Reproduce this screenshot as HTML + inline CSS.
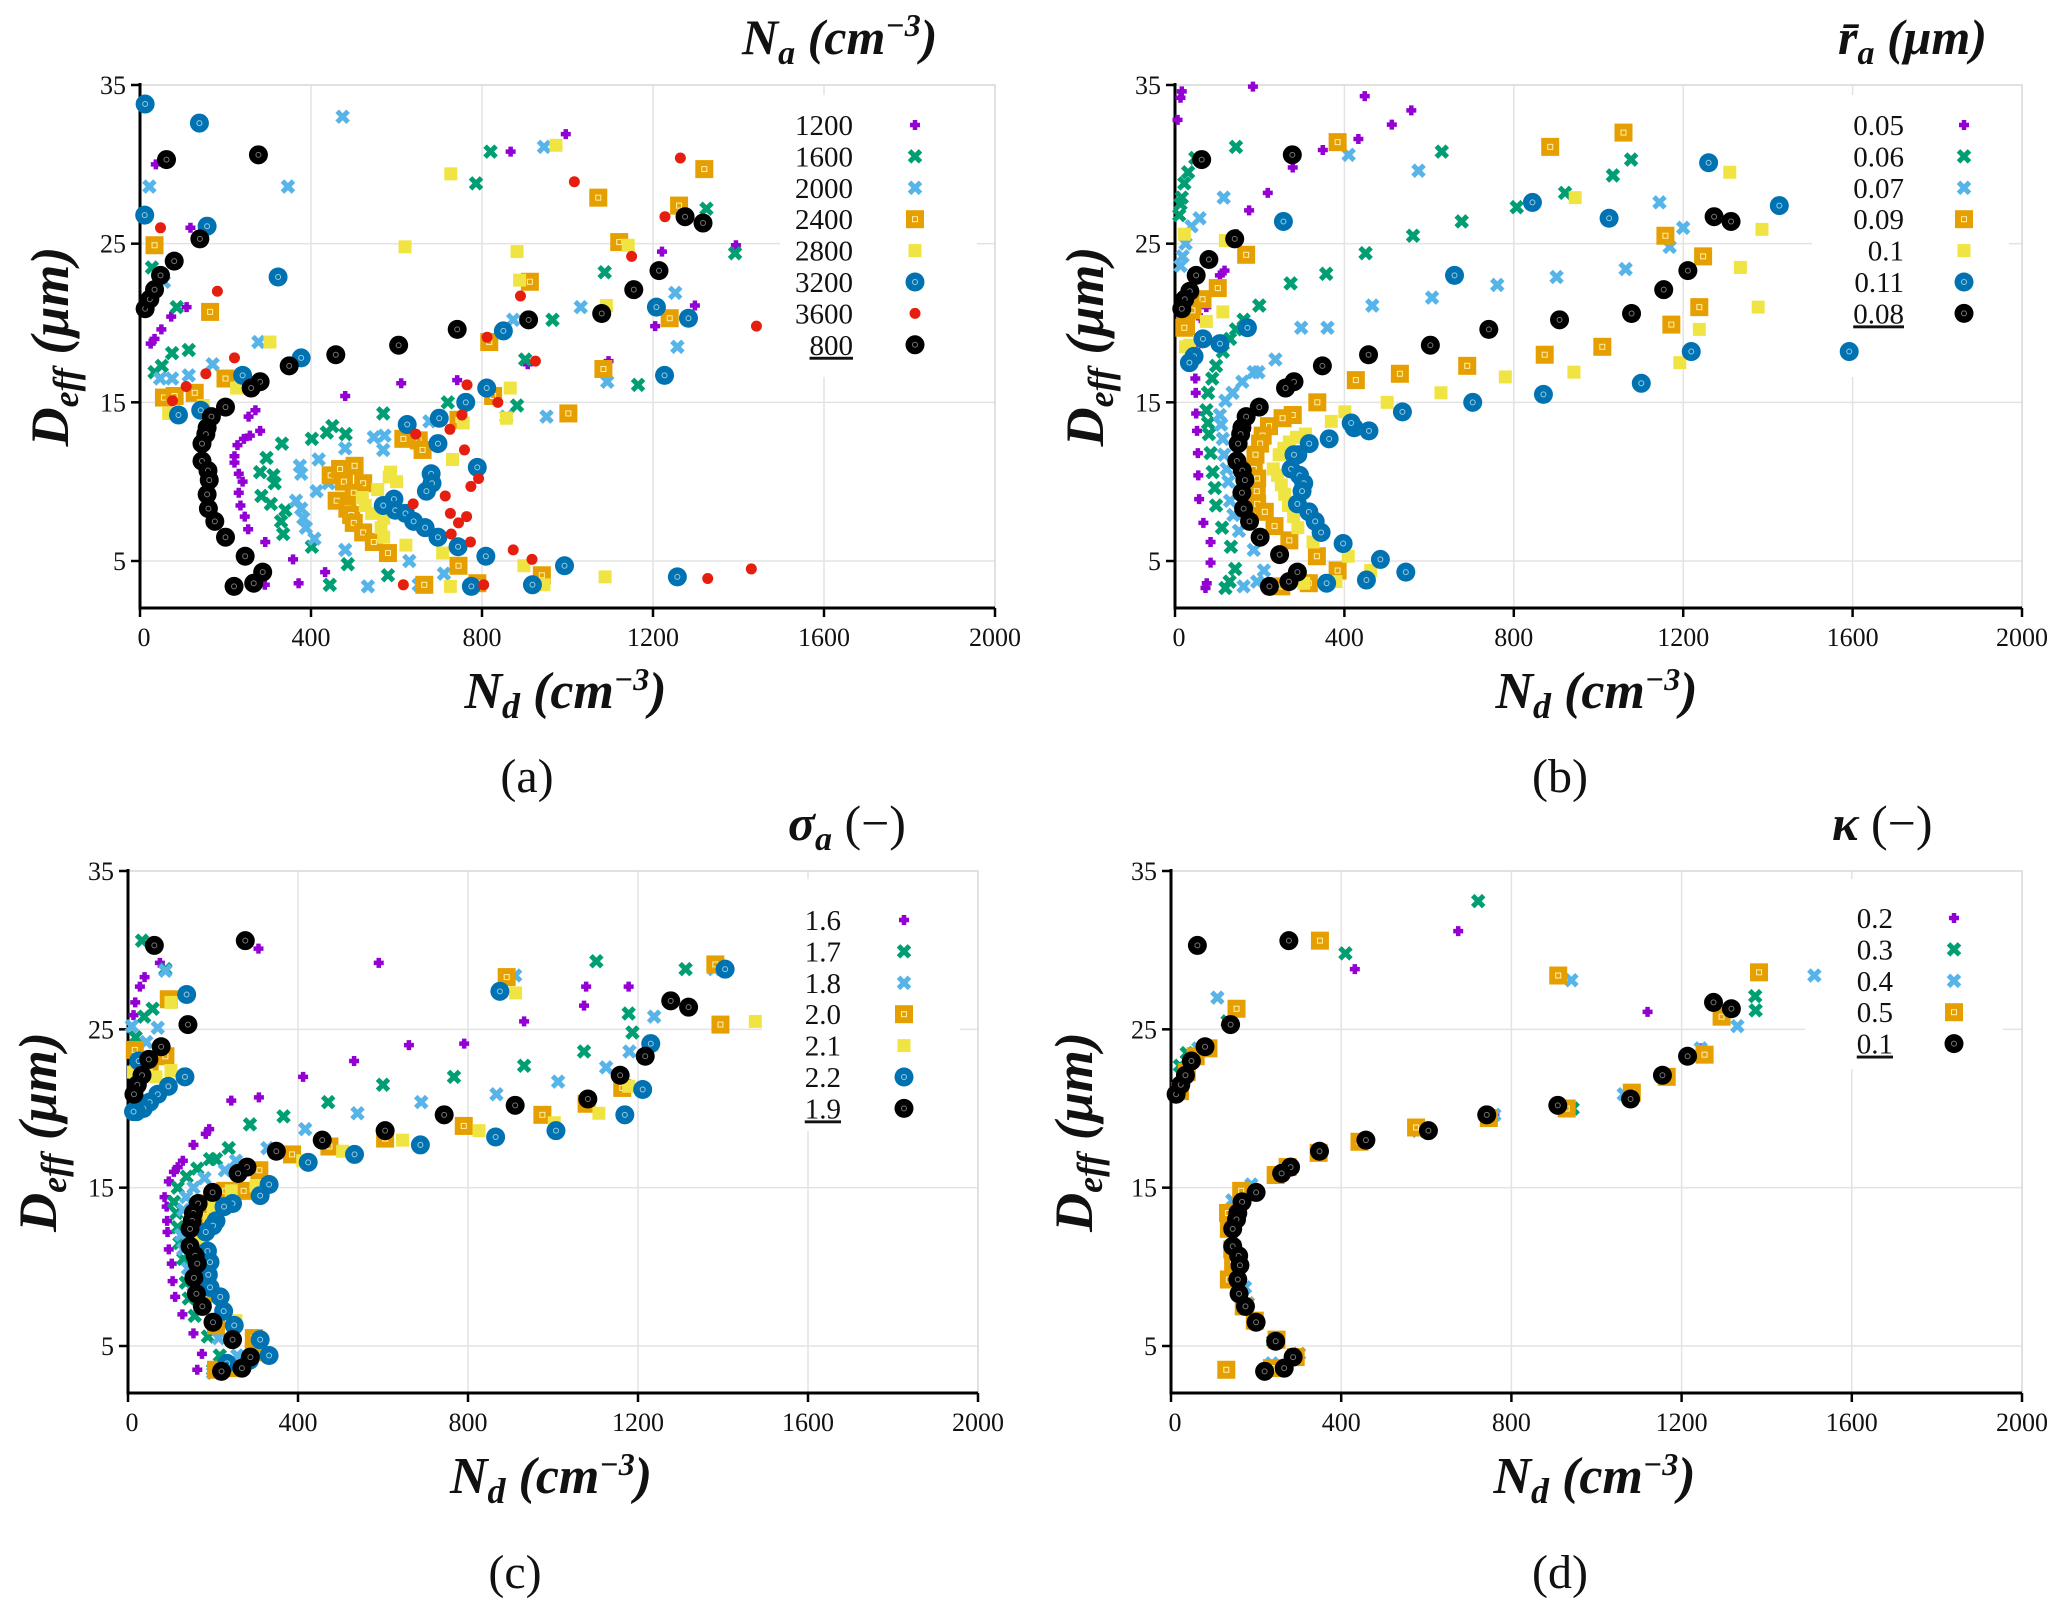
<!DOCTYPE html>
<html><head><meta charset="utf-8">
<style>
html,body{margin:0;padding:0;background:#fff;}
svg{display:block;font-family:"Liberation Serif",serif;}
</style></head>
<body>
<svg id="fig" width="2067" height="1605" viewBox="0 0 2067 1605" xmlns="http://www.w3.org/2000/svg"></svg>
<script>
// ---- shared tick data ----
const xTicks = [0, 400, 800, 1200, 1600, 2000];
const yTicks = [5, 15, 25, 35];

// ---- panel (a): N_a ----
const aLabels = ["1200","1600","2000","2400","2800","3200","3600","800"];
const a1200 = [[37,30],[118,26],[109,21],[73,20.4],[50,19.6],[34,19],[25,18.7],[281,13.2],[257,12.9],[243,12.7],[228,12.3],[221,11.6],[221,11.2],[231,10.5],[240,10],[231,9.3],[235,8.5],[245,7.8],[253,7],[293,6.2],[358,5.1],[371,3.6],[292,3.5],[433,4.3],[480,15.4],[611,16.2],[742,16.4],[270,14.5],[254,14.1],[867,30.8],[996,31.9],[907,17.4],[1096,17.6],[1205,19.8],[1221,24.5],[1298,21.1],[1394,24.9]];
const a1600 = [[28,23.5],[86,21],[75,18.1],[114,18.3],[51,17.3],[34,16.9],[296,11.5],[281,10.6],[312,10.4],[315,9.9],[284,9.1],[306,8.6],[340,8.2],[330,7.5],[335,6.7],[402,5.9],[332,12.4],[402,12.7],[437,13.1],[450,13.5],[481,13],[569,14.3],[720,15],[882,14.8],[901,17.7],[965,20.2],[1087,23.2],[1165,16.1],[786,28.8],[820,30.8],[1325,27.2],[1392,24.4],[486,4.8],[580,4.1],[444,3.5]];
const a2000 = [[22,28.6],[56,22.6],[47,16.5],[75,16.5],[114,16.7],[170,17.4],[277,18.8],[474,33],[346,28.6],[374,11],[377,10.5],[418,11.4],[413,9.4],[365,8.8],[377,8.3],[382,7.7],[388,7.1],[408,6.4],[480,5.7],[441,9.9],[480,12.1],[547,12.8],[572,12.9],[569,12],[630,5],[677,13.8],[711,4.2],[857,14.1],[951,14.1],[873,20.2],[945,31.1],[1031,21],[1093,16.3],[1252,21.9],[1257,18.5],[533,3.4],[652,3.5]];
const a2400 = [[34,24.9],[164,20.7],[56,15.3],[81,15.4],[128,15.6],[200,16.5],[446,10.4],[468,10.8],[477,10],[502,11],[522,9.9],[500,9.3],[460,8.8],[485,8.3],[494,7.9],[500,7.4],[522,6.8],[547,6.2],[580,5.5],[616,12.7],[652,12.6],[661,12],[745,13.9],[826,15.4],[745,4.7],[789,3.6],[665,3.5],[817,18.8],[912,22.6],[1002,14.3],[1072,27.9],[1084,17.1],[1121,25.1],[1239,20.3],[1261,27.4],[1320,29.7],[940,4.1]];
const a2800 = [[304,18.8],[226,15.9],[148,14.8],[67,14.3],[89,14.3],[586,10.6],[583,10.3],[600,10],[556,9.5],[520,9],[527,8.5],[542,8],[570,7.7],[564,7.1],[570,6.5],[622,6],[708,5.5],[726,3.4],[898,4.7],[945,3.5],[1088,4],[731,11.4],[756,13.7],[620,24.8],[727,29.4],[882,24.5],[888,22.7],[973,31.2],[1091,21.1],[1142,24.9],[866,15.9],[857,14]];
const a3200 = [[12,33.8],[139,32.6],[11,26.8],[157,26.1],[323,22.9],[377,17.8],[240,16.7],[142,14.5],[90,14.2],[625,13.6],[700,14],[697,12.4],[681,10.5],[683,9.9],[670,9.4],[789,10.9],[762,15],[811,15.9],[850,19.5],[569,8.5],[594,8.9],[597,8.2],[621,8],[640,7.5],[667,7.1],[697,6.5],[744,5.9],[809,5.3],[775,3.4],[918,3.5],[993,4.7],[1208,21],[1283,20.3],[1227,16.7],[1257,4]];
const a3600 = [[48,26],[181,22],[154,16.8],[108,16],[221,17.8],[76,15.1],[645,13],[725,13.3],[753,14.2],[765,16.1],[759,12],[792,10.2],[774,9.7],[714,9.1],[726,8],[745,7.4],[764,7.8],[728,6.7],[773,6.2],[837,15],[890,21.7],[812,19.1],[873,5.7],[917,5.1],[804,3.5],[616,3.5],[639,8.6],[1016,28.9],[1150,24.2],[1228,26.7],[1264,30.4],[925,17.6],[1430,4.5],[1328,3.9],[1442,19.8]];
const a800 = [[12,20.9],[23,21.5],[34,22.1],[48,23],[80,23.9],[140,25.3],[62,30.3],[277,30.6],[281,16.3],[260,15.9],[200,14.7],[167,14.1],[157,13.4],[154,13],[145,12.4],[145,11.3],[159,10.7],[162,10.1],[157,9.2],[160,8.3],[175,7.5],[200,6.5],[246,5.3],[287,4.3],[266,3.6],[220,3.4],[349,17.3],[458,18],[605,18.6],[742,19.6],[909,20.2],[1080,20.6],[1155,22.1],[1214,23.3],[1275,26.7],[1317,26.3]];

// ---- panel (b): r_a ----
const bLabels = ["0.05","0.06","0.07","0.09","0.1","0.11","0.08"];
const b005 = [[16,34.6],[13,34.2],[6,32.8],[184,34.9],[448,34.3],[558,33.4],[512,32.5],[433,31.6],[349,30.9],[278,29.8],[219,28.2],[175,27.1],[145,25.6],[117,23.3],[106,23],[93,22.3],[74,21],[61,20.3],[48,18.3],[48,16.5],[49,15.6],[50,14.3],[52,13.2],[54,11.8],[55,10.4],[57,8.9],[67,7.4],[84,6.2],[84,4.9],[75,3.6],[72,3.3]];
const b006 = [[144,31.1],[630,30.8],[1077,30.3],[1034,29.3],[921,28.2],[807,27.3],[677,26.4],[562,25.5],[450,24.4],[357,23.1],[273,22.5],[199,21.1],[162,20.2],[144,19.6],[130,19],[113,18.2],[97,17.3],[88,16.5],[78,15.6],[74,14.5],[78,13.7],[80,13],[84,11.8],[89,10.6],[94,9.6],[97,8.5],[111,7.1],[132,5.9],[142,4.5],[129,3.7],[119,3.3],[48,30.4],[31,29.5],[22,28.8],[16,27.9],[13,27.5],[10,26.8]];
const b007 = [[410,30.6],[575,29.6],[115,27.9],[58,26.6],[39,26.1],[25,25],[18,24.2],[13,23.6],[1144,27.6],[1200,26],[1168,24.8],[1064,23.4],[901,22.9],[761,22.4],[607,21.6],[466,21.1],[360,19.7],[298,19.7],[237,17.7],[197,16.9],[186,16.9],[159,16.3],[136,15.6],[119,15.1],[106,14.2],[109,13.6],[113,12.7],[116,11.7],[122,10.8],[126,10],[130,8.8],[138,7.9],[151,6.9],[186,5.7],[210,4.4],[194,3.7],[162,3.4]];
const b009 = [[384,31.4],[886,31.1],[1059,32],[1158,25.5],[1247,24.2],[1238,21],[1172,19.9],[1009,18.5],[873,18],[690,17.3],[531,16.8],[427,16.4],[336,15],[278,14.2],[254,14],[222,13.5],[207,12.9],[201,12.4],[190,11.7],[186,10.8],[194,10.2],[193,9.4],[194,8.6],[212,8.1],[235,7.2],[270,6.3],[335,5.3],[384,4.4],[316,3.6],[251,3.4],[168,24.3],[101,22.2],[65,21.5],[41,20.8],[26,19.8],[22,19.7]];
const b010 = [[1310,29.5],[945,27.9],[1386,25.9],[1335,23.5],[1377,21],[1238,19.6],[1192,17.5],[942,16.9],[780,16.6],[628,15.6],[501,15],[401,14.4],[369,13.8],[308,13],[287,12.8],[270,12.5],[257,12.1],[246,11.7],[232,10.8],[242,10.4],[251,9.8],[259,9.2],[268,8.5],[280,7.8],[290,7.1],[326,6.2],[409,5.3],[462,4.4],[380,3.7],[304,3.6],[22,25.6],[119,25.2],[113,20.7],[74,20.1],[35,18.6],[25,18.5]];
const b011 = [[256,26.4],[1260,30.1],[1427,27.4],[844,27.6],[1025,26.6],[660,23],[1592,18.2],[1219,18.2],[1101,16.2],[870,15.5],[703,15],[537,14.4],[458,13.2],[423,13.4],[416,13.7],[364,12.7],[317,12.4],[290,11.7],[281,11.7],[274,10.8],[294,10.4],[304,9.9],[300,9.4],[289,8.6],[316,8.1],[331,7.5],[345,6.8],[397,6.1],[485,5.1],[545,4.3],[452,3.8],[358,3.6],[171,19.7],[66,19],[106,18.7],[45,17.9],[34,17.5]];
const b008 = [[63,30.3],[277,30.6],[141,25.3],[80,24],[50,23],[35,22],[23,21.5],[16,20.9],[1273,26.7],[1313,26.4],[1211,23.3],[1154,22.1],[1078,20.6],[908,20.2],[741,19.6],[603,18.6],[457,18],[348,17.3],[281,16.3],[261,15.9],[199,14.7],[168,14.1],[158,13.4],[155,13],[149,12.4],[146,11.3],[159,10.7],[165,10.1],[158,9.3],[162,8.3],[176,7.5],[201,6.5],[247,5.4],[289,4.3],[269,3.7],[223,3.4]];

// ---- panel (c): sigma_a ----
const cLabels = ["1.6","1.7","1.8","2.0","2.1","2.2","1.9"];
const c16 = [[307,30.1],[590,29.2],[1078,27.7],[1178,27.7],[1073,26.5],[932,25.5],[791,24.1],[661,24],[532,23],[412,22],[308,20.7],[243,20.5],[191,18.7],[183,18.4],[154,17.7],[129,16.7],[117,16.3],[108,16],[96,15.4],[86,14.4],[91,13.8],[92,12.9],[93,12.2],[96,11.1],[103,10.2],[105,9.1],[111,8.1],[128,7],[154,5.8],[174,4.5],[163,3.5],[75,29.2],[39,28.3],[28,27.7],[17,26.7],[13,25.9]];
const c17 = [[33,30.6],[1102,29.3],[1312,28.8],[1178,26],[1187,24.8],[1073,23.6],[932,22.7],[767,22],[600,21.5],[471,20.4],[366,19.5],[287,19],[237,17.5],[207,16.8],[193,16.8],[163,16.2],[138,15.7],[117,15],[108,14.1],[114,13.4],[117,12.5],[121,11.5],[130,10.5],[136,9],[143,8],[157,6.9],[188,5.6],[216,4.4],[200,3.5],[58,26.3],[38,25.8],[18,24.5],[88,28.8]];
const c18 = [[88,28.7],[911,28.4],[1379,28.8],[1238,25.8],[1180,23.6],[1125,22.6],[1012,21.7],[867,20.9],[690,20.4],[540,19.7],[417,18.7],[328,17.5],[254,16.7],[228,16.1],[180,15.6],[154,15],[137,14.4],[130,13.6],[125,12],[130,11.1],[141,9.9],[154,8.8],[170,7.5],[213,5.5],[257,4.4],[200,3.3],[70,25.1],[43,24.2],[9,25.2]];
const c20 = [[891,28.3],[1382,29.1],[1394,25.3],[1163,21.3],[1079,20.3],[975,19.6],[790,18.9],[605,18.1],[474,17.6],[386,17.1],[309,16.1],[272,14.8],[229,14.8],[193,14],[183,13.2],[170,12.1],[174,9.9],[183,8.3],[207,6.3],[296,5.5],[296,4.6],[249,3.6],[207,3.5],[96,26.9],[88,23.3],[16,23.7],[51,22.6]];
const c21 = [[912,27.3],[1476,25.5],[1233,24],[1178,21.4],[1108,19.7],[1003,19.1],[826,18.6],[646,18],[505,17.3],[411,16.7],[301,15.1],[243,14.8],[200,13.8],[191,12.9],[171,11.8],[254,6.6],[101,26.7],[101,22.4],[66,22],[13,22.3]];
const c22 = [[138,27.2],[875,27.4],[1405,28.8],[1230,24.1],[1211,21.2],[1169,19.6],[1007,18.6],[865,18.2],[688,17.7],[533,17.1],[424,16.6],[332,15.2],[311,14.5],[246,14],[226,13.8],[207,12.9],[200,12.6],[183,12.2],[187,11],[193,10.3],[189,9.5],[193,8.7],[217,8.1],[225,7.2],[250,6.3],[311,5.4],[332,4.4],[286,4.1],[233,3.9],[134,22],[95,21.4],[70,20.9],[51,20.4],[36,20],[20,19.8],[13,19.8],[25,23]];
const c19 = [[62,30.3],[276,30.6],[141,25.3],[78,23.9],[49,23.1],[33,22.1],[22,21.5],[14,20.9],[1277,26.8],[1319,26.4],[1217,23.3],[1158,22.1],[1082,20.6],[911,20.2],[744,19.6],[605,18.6],[457,18],[349,17.3],[280,16.3],[259,15.9],[199,14.7],[165,14],[154,13.4],[151,12.9],[146,12.4],[146,11.3],[158,10.7],[163,10.2],[155,9.3],[161,8.3],[175,7.5],[200,6.5],[246,5.4],[288,4.3],[268,3.6],[220,3.4]];

// ---- panel (d): kappa ----
const dLabels = ["0.2","0.3","0.4","0.5","0.1"];
const d02 = [[675,31.2],[432,28.8],[1120,26.1],[1245,23.8],[1157,22],[760,19.6],[146,10.2]];
const d03 = [[722,33.1],[410,29.8],[1373,27.1],[1374,26.2],[133,25.5],[37,23.5],[21,22.7],[240,5.3],[944,20],[1160,22],[580,18.6],[260,15.9],[150,13.3]];
const d04 = [[109,27],[941,28.1],[1512,28.4],[1331,25.2],[1245,23.8],[1157,22],[1064,20.9],[760,19.6],[581,18.6],[189,15.2],[144,14.2],[174,8.7],[181,7.7],[301,4.5],[237,3.9],[64,23.8]];
const d05 = [[350,30.6],[910,28.4],[1382,28.6],[154,26.3],[1294,25.8],[1254,23.4],[1165,22],[1083,21],[930,20],[747,19.4],[576,18.8],[443,17.9],[347,17.2],[274,16.3],[246,15.8],[165,14.8],[134,13.4],[136,12.4],[144,11.1],[146,10.2],[136,9.2],[171,7.5],[197,6.6],[248,5.4],[293,4.3],[237,3.6],[130,3.5],[88,23.8],[58,23.3],[37,22.3],[21,21.1]];
const d01 = [[12,20.9],[23,21.5],[34,22.1],[48,23],[80,23.9],[140,25.3],[62,30.3],[277,30.6],[281,16.3],[260,15.9],[200,14.7],[167,14.1],[157,13.4],[154,13],[145,12.4],[145,11.3],[159,10.7],[162,10.1],[157,9.2],[160,8.3],[175,7.5],[200,6.5],[246,5.3],[287,4.3],[266,3.6],[220,3.4],[349,17.3],[458,18],[605,18.6],[742,19.6],[909,20.2],[1080,20.6],[1155,22.1],[1214,23.3],[1275,26.7],[1317,26.3]];

const NS = "http://www.w3.org/2000/svg";
const svg = document.getElementById("fig");
function mk(tag, attrs, parent){ const e=document.createElementNS(NS,tag); for(const k in attrs) e.setAttribute(k,attrs[k]); (parent||svg).appendChild(e); return e; }

const STY = {
  plus:  {c:"#9400d3"}, cross:{c:"#009e73"}, xlb:{c:"#56b4e9"}, sqo:{c:"#e69f00"},
  sqy:   {c:"#f0e442"}, circb:{c:"#0072b2"}, dotr:{c:"#e51e10"}, circk:{c:"#000000"}
};
function marker(g, type, x, y){
  const c = STY[type].c; let m;
  if(type==="plus"){ m=mk("path",{d:`M${x-5} ${y}h10M${x} ${y-5}v10`,stroke:c,"stroke-width":4.5,fill:"none"},g); }
  else if(type==="cross"||type==="xlb"){ m=mk("path",{d:`M${x-5.5} ${y-5.5}l11 11M${x+5.5} ${y-5.5}l-11 11`,stroke:c,"stroke-width":5,fill:"none"},g); }
  else if(type==="sqo"){ m=mk("rect",{x:x-9,y:y-9,width:18,height:18,fill:c},g); mk("rect",{x:x-2.5,y:y-2.5,width:5,height:5,fill:"none",stroke:"#fff0b0","stroke-width":1},g); }
  else if(type==="sqy"){ m=mk("rect",{x:x-6.5,y:y-6.5,width:13,height:13,fill:c},g); }
  else if(type==="circb"||type==="circk"){ m=mk("circle",{cx:x,cy:y,r:9.5,fill:c},g); mk("circle",{cx:x,cy:y,r:2.5,fill:"none",stroke:type==="circk"?"#777":"#9cd",'stroke-width':1},g); }
  else { m=mk("circle",{cx:x,cy:y,r:5.5,fill:c},g); }
  return m;
}

const CM3 = '<tspan dy="-10"> (cm</tspan><tspan font-size="32" dy="-18">−3</tspan><tspan dy="18">)</tspan>';

function panel(cfg){
  const P = mk("g",{});  
  const sx = v => cfg.x0 + v/2000*(cfg.x1-cfg.x0);
  const sy = v => cfg.y5 - (v-5)*(cfg.y5-cfg.y35)/30;
  const left=cfg.x0, right=cfg.x1, top=cfg.y35, bot=cfg.yb;
  const grid = mk("g",{stroke:"#e3e3e3","stroke-width":1.5},P);
   
  xTicks.forEach(t=>{ if(t>0) mk("line",{x1:sx(t),x2:sx(t),y1:top,y2:bot},grid); });
  yTicks.forEach(t=>{ mk("line",{x1:left,x2:right,y1:sy(t),y2:sy(t)},grid); });
  mk("path",{d:`M${left} ${top}H${right}V${bot}`,stroke:"#dcdcdc","stroke-width":1.5,fill:"none"},P);
  const ax = mk("path",{d:`M${left} ${top-2}V${bot}H${right}`,stroke:"#000","stroke-width":3,fill:"none"},P);
   
  const tk = mk("g",{stroke:"#000","stroke-width":2.5},P);
  xTicks.forEach(t=>{ mk("line",{x1:sx(t),x2:sx(t),y1:bot,y2:bot+9},tk); });
  yTicks.forEach(t=>{ mk("line",{x1:left-9,x2:left,y1:sy(t),y2:sy(t)},tk); });
  const tl = mk("g",{"font-size":26,fill:"#111"},P);
   
  xTicks.forEach(t=>{ const e=mk("text",{x:sx(t)+(t===0?4:0),y:bot+38,"text-anchor":"middle"},tl); e.textContent=t; });
  yTicks.forEach(t=>{ const e=mk("text",{x:left-14,y:sy(t)+9,"text-anchor":"end"},tl); e.textContent=t; });
  mk("rect",{x:cfg.lx0,y:cfg.ly0,width:cfg.lw,height:cfg.lh,fill:"#fff"},P);
  cfg.series.forEach((s,i)=>{
    const g = mk("g",{},P);
    
    
    s.data.forEach(d=>{ marker(g,s.type,sx(d[0]),sy(d[1])); });
  });
  const lg = mk("g",{},P);
   
  cfg.series.forEach((s,i)=>{
    const y = cfg.legY + i*31.4;
    const t = mk("text",{x:cfg.legTx,y:y+10,"text-anchor":"end","font-size":29,fill:"#111"},lg);
    t.textContent = s.label;
     
    if(i===cfg.series.length-1) t.setAttribute("text-decoration","underline");
    marker(lg,s.type,cfg.legMx,y);
  });
  const tt = mk("text",{x:cfg.titleX,y:cfg.titleY,"font-size":50,"font-weight":"bold","font-style":"italic",fill:"#111"},P);
  tt.innerHTML = cfg.title;
   
  const xl = mk("text",{x:(left+right)/2-2,y:bot+100,"text-anchor":"middle","font-size":52,"font-weight":"bold","font-style":"italic",fill:"#111"},P);
  xl.innerHTML = 'N<tspan font-size="36" dy="10">d</tspan>' + CM3;
   
  const yx = cfg.ylx, yy=(top+bot)/2;
  const yl = mk("text",{x:yx,y:yy,"text-anchor":"middle","font-size":54,"font-weight":"bold","font-style":"italic",fill:"#111",transform:`rotate(-90 ${yx} ${yy})`},P);
  yl.innerHTML = 'D<tspan font-size="36" dy="10">eff</tspan><tspan dy="-10"> (μm)</tspan>';
   
  const cap = mk("text",{x:cfg.capX,y:cfg.capY,"text-anchor":"middle","font-size":48,fill:"#111"},P);
  cap.textContent = cfg.cap;
   
}

panel({name:"panel-a",x0:140,x1:995,y35:85,y5:561,yb:608,lx0:780,ly0:95,lw:197,lh:282,legY:125,legTx:853,legMx:915,
  title:'N<tspan font-size="34" dy="10">a</tspan>'+CM3,titleX:742,titleY:54,ylx:68,capX:527,capY:792,cap:"(a)",
  series:[{label:aLabels[0],type:"plus",data:a1200},{label:aLabels[1],type:"cross",data:a1600},{label:aLabels[2],type:"xlb",data:a2000},{label:aLabels[3],type:"sqo",data:a2400},{label:aLabels[4],type:"sqy",data:a2800},{label:aLabels[5],type:"circb",data:a3200},{label:aLabels[6],type:"dotr",data:a3600},{label:aLabels[7],type:"circk",data:a800}]});

panel({name:"panel-b",x0:1175,x1:2022,y35:85,y5:561,yb:608,lx0:1812,ly0:95,lw:197,lh:282,legY:125,legTx:1904,legMx:1964,
  title:'r̄<tspan font-size="34" dy="10">a</tspan><tspan dy="-10"> (μm)</tspan>',titleX:1838,titleY:54,ylx:1103,capX:1560,capY:792,cap:"(b)",
  series:[{label:bLabels[0],type:"plus",data:b005},{label:bLabels[1],type:"cross",data:b006},{label:bLabels[2],type:"xlb",data:b007},{label:bLabels[3],type:"sqo",data:b009},{label:bLabels[4],type:"sqy",data:b010},{label:bLabels[5],type:"circb",data:b011},{label:bLabels[6],type:"circk",data:b008}]});

panel({name:"panel-c",x0:128,x1:978,y35:871,y5:1346,yb:1393,lx0:762,ly0:879,lw:198,lh:252,legY:920,legTx:841,legMx:904,
  title:'σ<tspan font-size="34" dy="10">a</tspan><tspan dy="-10" font-weight="normal" font-style="normal"> (−)</tspan>',titleX:788,titleY:840,ylx:56,capX:515,capY:1588,cap:"(c)",
  series:[{label:cLabels[0],type:"plus",data:c16},{label:cLabels[1],type:"cross",data:c17},{label:cLabels[2],type:"xlb",data:c18},{label:cLabels[3],type:"sqo",data:c20},{label:cLabels[4],type:"sqy",data:c21},{label:cLabels[5],type:"circb",data:c22},{label:cLabels[6],type:"circk",data:c19}]});

panel({name:"panel-d",x0:1171,x1:2022,y35:871,y5:1346,yb:1393,lx0:1805,ly0:879,lw:198,lh:190,legY:918,legTx:1893,legMx:1954,
  title:'κ<tspan font-weight="normal" font-style="normal"> (−)</tspan>',titleX:1832,titleY:840,ylx:1092,capX:1560,capY:1588,cap:"(d)",
  series:[{label:dLabels[0],type:"plus",data:d02},{label:dLabels[1],type:"cross",data:d03},{label:dLabels[2],type:"xlb",data:d04},{label:dLabels[3],type:"sqo",data:d05},{label:dLabels[4],type:"circk",data:d01}]});
</script>
</body></html>
